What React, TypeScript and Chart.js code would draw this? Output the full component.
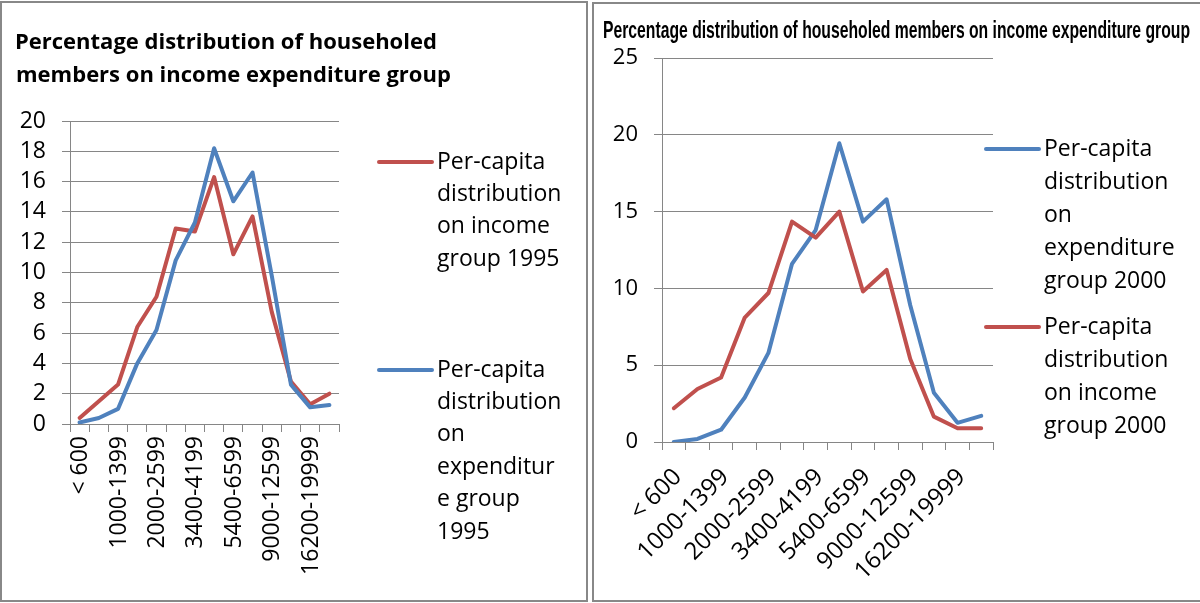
import React, { useEffect, useRef } from 'react';
import { Chart, registerables } from 'chart.js';

Chart.register(...registerables);

// ---------- data ----------
const categories = [
  '< 600', '600-999', '1000-1399', '1400-1999', '2000-2599', '2600-3399', '3400-4199',
  '4200-5399', '5400-6599', '6600-8999', '9000-12599', '12600-16199', '16200-19999', '20000+',
];

const income1995 = [0.4, 1.5, 2.6, 6.4, 8.4, 12.9, 12.7, 16.3, 11.2, 13.7, 7.4, 2.8, 1.3, 2.0];
const expenditure1995 = [0.1, 0.4, 1.0, 4.0, 6.2, 10.8, 13.3, 18.2, 14.7, 16.6, 9.8, 2.6, 1.1, 1.25];
const expenditure2000 = [0, 0.2, 0.8, 2.9, 5.8, 11.6, 13.8, 19.45, 14.35, 15.8, 8.9, 3.2, 1.25, 1.7];
const income2000 = [2.2, 3.45, 4.2, 8.1, 9.7, 14.35, 13.3, 15.0, 9.8, 11.2, 5.4, 1.65, 0.9, 0.9];

const title1995 = ['Percentage distribution of householed', 'members on income expenditure group'];
const title2000 = 'Percentage distribution of householed members on income expenditure group';

const legendIncome1995 = ['Per-capita', 'distribution', 'on income', 'group 1995'];
const legendExpenditure1995 = ['Per-capita', 'distribution', 'on', 'expenditur', 'e group', '1995'];
const legendExpenditure2000 = ['Per-capita', 'distribution', 'on', 'expenditure', 'group 2000'];
const legendIncome2000 = ['Per-capita', 'distribution', 'on income', 'group 2000'];

const yMax1995 = 20;
const yStep1995 = 2;
const yMax2000 = 25;
const yStep2000 = 5;

// ---------- styles ----------
const RED = '#C0504D';
const BLUE = '#4F81BD';
const GRID = '#868686';
const FONT = '"Open Sans", Lato, sans-serif';

const decorPlugin = {
  id: 'decor',
  afterDraw(chart: any, _args: any, opts: any) {
    const ctx = chart.ctx;
    ctx.save();
    for (const t of opts.titles || []) {
      ctx.save();
      ctx.font = t.font;
      ctx.fillStyle = '#000';
      ctx.textBaseline = 'alphabetic';
      ctx.textAlign = 'left';
      let sx = 1;
      if (t.fitWidth) {
        const w = ctx.measureText(t.text).width;
        sx = t.fitWidth / w;
      }
      ctx.translate(t.x, t.y);
      ctx.scale(sx, 1);
      ctx.fillText(t.text, 0, 0);
      ctx.restore();
    }
    for (const item of opts.legend || []) {
      const ds = chart.data.datasets[item.datasetIndex];
      ctx.save();
      ctx.strokeStyle = ds.borderColor;
      ctx.lineWidth = 4;
      ctx.lineCap = 'round';
      ctx.beginPath();
      ctx.moveTo(item.x1, item.y);
      ctx.lineTo(item.x2, item.y);
      ctx.stroke();
      ctx.font = item.font;
      ctx.fillStyle = '#000';
      ctx.textBaseline = 'middle';
      ctx.textAlign = 'left';
      item.lines.forEach((ln: string, k: number) => {
        ctx.fillText(ln, item.textX, item.y + k * item.lineHeight);
      });
      ctx.restore();
    }
    ctx.restore();
  },
};

function makeConfig(p: any) {
  return {
    type: 'line',
    data: {
      labels: categories,
      datasets: p.datasets.map((d: any) => ({
        label: d.label,
        data: d.data,
        borderColor: d.color,
        backgroundColor: d.color,
        borderWidth: 4,
        pointRadius: 0,
        tension: 0,
        borderCapStyle: 'round',
        borderJoinStyle: 'round',
        fill: false,
      })),
    },
    options: {
      responsive: false,
      animation: false,
      events: [],
      layout: { padding: { left: 0, top: p.top, right: p.right, bottom: 0 } },
      plugins: {
        legend: { display: false },
        title: { display: false },
        tooltip: { enabled: false },
        decor: { titles: p.titles, legend: p.legend },
      },
      scales: {
        x: {
          type: 'category',
          offset: true,
          grid: {
            offset: true,
            drawOnChartArea: false,
            drawTicks: true,
            tickLength: 8,
            color: GRID,
            lineWidth: 1,
          },
          border: { display: true, color: GRID, width: 1 },
          ticks: {
            autoSkip: false,
            minRotation: p.rotation,
            maxRotation: p.rotation,
            padding: p.xPad,
            labelOffset: p.xOffset,
            color: '#000',
            font: { family: FONT, size: p.xFont },
            callback: (_v: any, i: number) => (i % 2 === 0 ? categories[i] : ''),
          },
          afterFit: (s: any) => {
            s.height = p.xHeight;
          },
        },
        y: {
          min: 0,
          max: p.yMax,
          grid: { color: GRID, lineWidth: 1, tickLength: 8, drawTicks: true },
          border: { display: true, color: GRID, width: 1 },
          ticks: {
            stepSize: p.yStep,
            autoSkip: false,
            padding: 16,
            color: '#000',
            font: { family: FONT, size: p.yFont },
          },
          afterFit: (s: any) => {
            s.width = p.yWidth;
          },
        },
      },
    },
    plugins: [decorPlugin],
  };
}

const leftConfig = makeConfig({
  datasets: [
    { label: 'Per-capita distribution on expenditure group 1995', data: expenditure1995, color: BLUE },
    { label: 'Per-capita distribution on income group 1995', data: income1995, color: RED },
  ],
  top: 121,
  right: 251,
  rotation: 90,
  xPad: 4,
  xOffset: 1,
  xFont: 23,
  yFont: 23,
  xHeight: 179,
  yWidth: 70,
  yMax: yMax1995,
  yStep: yStep1995,
  titles: [
    { text: title1995[0], x: 15, y: 49, font: `bold 22px ${FONT}` },
    { text: title1995[1], x: 16, y: 82, font: `bold 22px ${FONT}` },
  ],
  legend: [
    { datasetIndex: 1, lines: legendIncome1995, x1: 379, x2: 432, y: 162, textX: 437, lineHeight: 32.4, font: `23px ${FONT}` },
    { datasetIndex: 0, lines: legendExpenditure1995, x1: 379, x2: 432, y: 370, textX: 437, lineHeight: 32.4, font: `23px ${FONT}` },
  ],
});

const rightConfig = makeConfig({
  datasets: [
    { label: 'Per-capita distribution on income group 2000', data: income2000, color: RED },
    { label: 'Per-capita distribution on expenditure group 2000', data: expenditure2000, color: BLUE },
  ],
  top: 58,
  right: 207,
  rotation: 45,
  xPad: 13,
  xOffset: 4,
  xFont: 24,
  yFont: 22,
  xHeight: 161,
  yWidth: 72,
  yMax: yMax2000,
  yStep: yStep2000,
  titles: [{ text: title2000, x: 13, y: 38, font: 'bold 23px "Liberation Sans", Arial, sans-serif', fitWidth: 587 }],
  legend: [
    { datasetIndex: 1, lines: legendExpenditure2000, x1: 396, x2: 449, y: 149, textX: 454, lineHeight: 33.2, font: `23px ${FONT}` },
    { datasetIndex: 0, lines: legendIncome2000, x1: 396, x2: 449, y: 327, textX: 454, lineHeight: 33, font: `23px ${FONT}` },
  ],
});

function ChartCanvas({ config, left, width, height }: any) {
  const ref = useRef<HTMLCanvasElement | null>(null);
  useEffect(() => {
    if (!ref.current) return;
    const chart = new Chart(ref.current, config);
    return () => chart.destroy();
  }, [config]);
  return (
    <canvas
      ref={ref}
      width={width}
      height={height}
      style={{ position: 'absolute', left, top: 0, width, height }}
    />
  );
}

export default function App() {
  return (
    <div
      style={{
        position: 'fixed',
        left: 0,
        top: 0,
        width: 1200,
        height: 603,
        overflow: 'hidden',
        background: '#fff',
      }}
    >
      <div
        style={{
          position: 'absolute',
          left: 0,
          top: 1,
          width: 588,
          height: 601,
          boxSizing: 'border-box',
          border: '2px solid #888',
        }}
      />
      <div
        style={{
          position: 'absolute',
          left: 592,
          top: 2,
          width: 612,
          height: 600,
          boxSizing: 'border-box',
          border: '2px solid #888',
        }}
      />
      <ChartCanvas config={leftConfig} left={0} width={590} height={603} />
      <ChartCanvas config={rightConfig} left={590} width={610} height={603} />
    </div>
  );
}
